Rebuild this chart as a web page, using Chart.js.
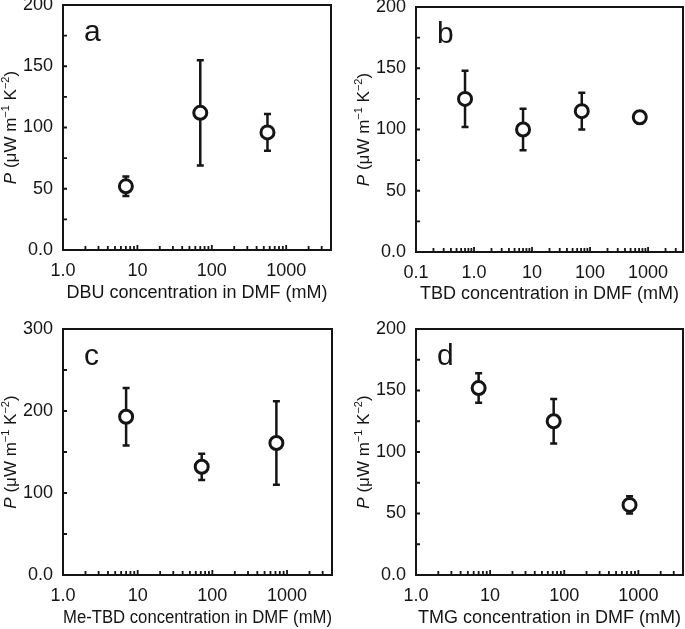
<!DOCTYPE html>
<html lang="en">
<head>
<meta charset="UTF-8">
<title>Power factor vs base concentration</title>
<script src="https://cdn.jsdelivr.net/npm/chart.js"></script>
<style>
  body { margin: 0; background: #fff; }
  #wrap { position: relative; width: 685px; height: 629px; }
  canvas { position: absolute; }
</style>
</head>
<body>
<div id="wrap">
  <canvas id="chartA" width="342" height="310" style="left:0;top:0"></canvas>
  <canvas id="chartB" width="343" height="310" style="left:342px;top:0"></canvas>
  <canvas id="chartC" width="342" height="319" style="left:0;top:310px"></canvas>
  <canvas id="chartD" width="343" height="319" style="left:342px;top:310px"></canvas>
</div>

<script>
// ---- data (concentration in mM, P in uW m-1 K-2) ----
const dbuConc = [7, 70, 560];
const dbuP = [52, 112, 96];
const dbuErr = [8, 43, 15];

const tbdConc = [0.7, 7, 72, 720];
const tbdP = [125, 100, 115, 110];
const tbdErr = [23, 17, 15, 5];

const meTbdConc = [7, 72, 720];
const meTbdP = [193, 132, 161];
const meTbdErr = [35, 16, 51];

const tmgConc = [7, 72, 760];
const tmgP = [152, 125, 57];
const tmgErr = [12, 18, 7];

const xTicks = [1, 10, 100, 1000];
const xTickLabels = ['1.0', '10', '100', '1000'];
const xTicksB = [0.1, 1, 10, 100, 1000];
const xTickLabelsB = ['0.1', '1.0', '10', '100', '1000'];

const FONT = '"Liberation Sans", Arial, Helvetica, sans-serif';
const INK = '#151515';
const FS = 18;
Chart.defaults.font.family = FONT;
Chart.defaults.color = INK;

function drawYTitle(ctx, x, y) {
    const parts = [
        { t: 'P', f: 'italic 17px ' + FONT, dy: 0 },
        { t: ' (\u03bcW m', f: '17px ' + FONT, dy: 0 },
        { t: '\u22121', f: '11px ' + FONT, dy: -5 },
        { t: ' K', f: '17px ' + FONT, dy: 0 },
        { t: '\u22122', f: '11px ' + FONT, dy: -5 },
        { t: ')', f: '17px ' + FONT, dy: 0 },
    ];
    ctx.save();
    ctx.translate(x, y);
    ctx.rotate(-Math.PI / 2);
    let total = 0;
    parts.forEach(p => { ctx.font = p.f; p.w = ctx.measureText(p.t).width; total += p.w; });
    let cx = -total / 2;
    ctx.fillStyle = INK;
    ctx.textAlign = 'left';
    ctx.textBaseline = 'middle';
    parts.forEach(p => { ctx.font = p.f; ctx.fillText(p.t, cx, p.dy); cx += p.w; });
    ctx.restore();
}

function makePanel(id, p) {
    const pts = p.conc.map((c, i) => ({ x: c, y: p.val[i] }));

    // frame, inward ticks, error bars, panel letter, y title
    const decor = {
        id: 'decor' + id,
        beforeDatasetsDraw(chart) {
            const ctx = chart.ctx;
            const xs = chart.scales.x, ys = chart.scales.y;
            ctx.save();
            ctx.strokeStyle = INK;
            ctx.lineWidth = 2.5;
            p.conc.forEach((c, i) => {
                const px = xs.getPixelForValue(c);
                const top = ys.getPixelForValue(p.val[i] + p.err[i]);
                const bot = ys.getPixelForValue(p.val[i] - p.err[i]);
                ctx.beginPath();
                ctx.moveTo(px, top); ctx.lineTo(px, bot);
                ctx.moveTo(px - 3.5, top); ctx.lineTo(px + 3.5, top);
                ctx.moveTo(px - 3.5, bot); ctx.lineTo(px + 3.5, bot);
                ctx.stroke();
            });
            ctx.restore();
        },
        afterDraw(chart) {
            const ctx = chart.ctx;
            const a = chart.chartArea;
            const xs = chart.scales.x, ys = chart.scales.y;
            ctx.save();
            ctx.strokeStyle = INK;
            ctx.lineWidth = 2;
            ctx.strokeRect(a.left, a.top, a.right - a.left, a.bottom - a.top);

            // x ticks (log minor), pointing up into the plot
            ctx.lineWidth = 1.8;
            ctx.beginPath();
            for (let k = Math.floor(Math.log10(p.xMin)); k <= 4; k++) {
                for (let m = 1; m <= 9; m++) {
                    const v = m * Math.pow(10, k);
                    if (v <= p.xMin * 1.001 || v >= p.xMax) continue;
                    const px = xs.getPixelForValue(v);
                    const len = m === 1 ? 5 : 4;
                    ctx.moveTo(px, a.bottom);
                    ctx.lineTo(px, a.bottom - len);
                }
            }
            // y ticks pointing right into the plot
            for (let v = p.yStep; v < p.yMax; v += p.yStep) {
                const py = ys.getPixelForValue(v);
                ctx.moveTo(a.left, py);
                ctx.lineTo(a.left + 4, py);
            }
            ctx.stroke();

            ctx.fillStyle = INK;
            ctx.font = '30px ' + FONT;
            ctx.textAlign = 'left';
            ctx.textBaseline = 'alphabetic';
            ctx.fillText(p.letter, a.left + 21, a.top + 36);
            ctx.restore();

            drawYTitle(ctx, a.left - 52, (a.top + a.bottom) / 2);
        }
    };

    return new Chart(document.getElementById(id), {
        type: 'scatter',
        data: {
            datasets: [{
                data: pts,
                pointRadius: 6.5,
                pointHoverRadius: 6.5,
                pointBorderWidth: 3,
                pointBackgroundColor: '#ffffff',
                pointBorderColor: INK,
                showLine: false,
            }]
        },
        options: {
            responsive: false,
            animation: false,
            layout: { autoPadding: false, padding: p.pad },
            plugins: { legend: { display: false }, tooltip: { enabled: false } },
            scales: {
                x: {
                    type: 'logarithmic',
                    min: p.xMin,
                    max: p.xMax,
                    grid: { display: false, drawTicks: false },
                    border: { display: false },
                    afterBuildTicks: s => { s.ticks = p.xTicks.map(v => ({ value: v })); },
                    afterFit: s => {
                        s.height = p.xHeight;
                        s.paddingLeft = 0; s.paddingRight = 0;
                    },
                    ticks: {
                        autoSkip: false,
                        maxRotation: 0,
                        padding: 10,
                        font: { size: FS },
                        color: INK,
                        callback: (v, i) => p.xLabels[i],
                    },
                    title: {
                        display: true,
                        text: p.xTitle,
                        font: { size: FS },
                        color: INK,
                        padding: { top: 0, bottom: p.titlePad },
                    },
                },
                y: {
                    min: 0,
                    max: p.yMax,
                    grid: { display: false, drawTicks: false },
                    border: { display: false },
                    afterFit: s => {
                        s.width = p.yWidth;
                        s.paddingTop = 0; s.paddingBottom = 0;
                    },
                    ticks: {
                        stepSize: p.yLabelStep,
                        padding: 10,
                        font: { size: FS },
                        color: INK,
                        callback: v => (v === 0 ? '0.0' : String(v)),
                    },
                },
            },
        },
        plugins: [decor],
    });
}

makePanel('chartA', {
    conc: dbuConc, val: dbuP, err: dbuErr, letter: 'a',
    xMin: 1, xMax: 4000, xTicks: xTicks, xLabels: xTickLabels,
    xTitle: 'DBU concentration in DMF (mM)',
    yMax: 200, yStep: 25, yLabelStep: 50,
    pad: { top: 5, right: 11, bottom: 0, left: 0 }, yWidth: 63, xHeight: 60, titlePad: 6,
});
makePanel('chartB', {
    conc: tbdConc, val: tbdP, err: tbdErr, letter: 'b',
    xMin: 0.1, xMax: 4000, xTicks: xTicksB, xLabels: xTickLabelsB,
    xTitle: 'TBD concentration in DMF (mM)',
    yMax: 200, yStep: 25, yLabelStep: 50,
    pad: { top: 7, right: 2, bottom: 0, left: 0 }, yWidth: 74, xHeight: 58, titlePad: 5,
});
makePanel('chartC', {
    conc: meTbdConc, val: meTbdP, err: meTbdErr, letter: 'c',
    xMin: 1, xMax: 4000, xTicks: xTicks, xLabels: xTickLabels,
    xTitle: 'Me-TBD concentration in DMF (mM)',
    yMax: 300, yStep: 50, yLabelStep: 100,
    pad: { top: 19, right: 10, bottom: 0, left: 0 }, yWidth: 63, xHeight: 54, titlePad: 0,
});
makePanel('chartD', {
    conc: tmgConc, val: tmgP, err: tmgErr, letter: 'd',
    xMin: 1, xMax: 4000, xTicks: xTicks, xLabels: xTickLabels,
    xTitle: 'TMG concentration in DMF (mM)',
    yMax: 200, yStep: 25, yLabelStep: 50,
    pad: { top: 19, right: 2, bottom: 0, left: 0 }, yWidth: 74, xHeight: 54, titlePad: 0,
});
</script>
</body>
</html>
